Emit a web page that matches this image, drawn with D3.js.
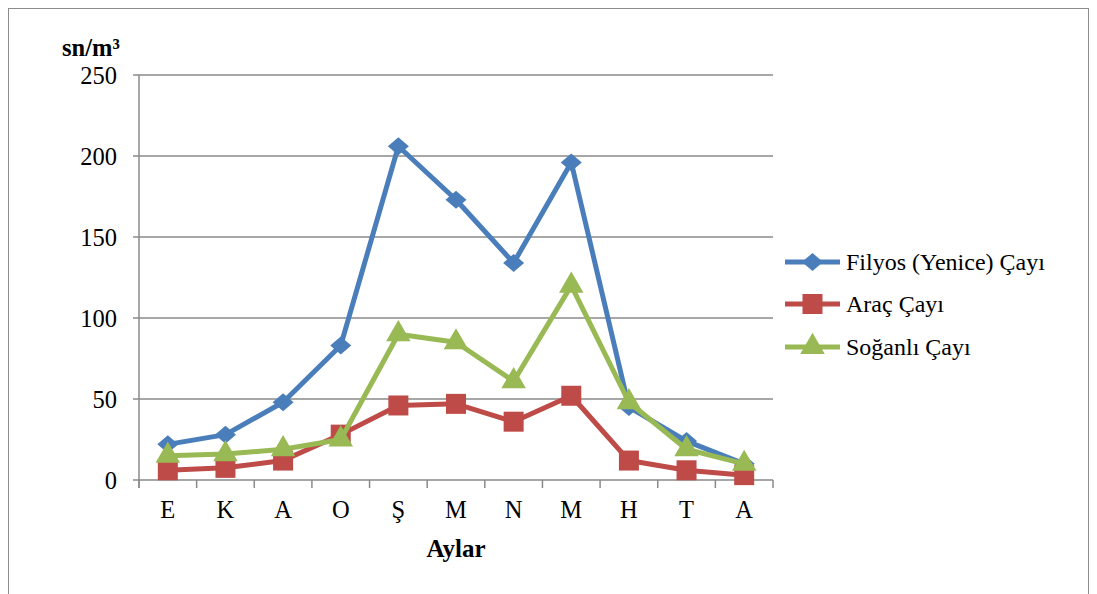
<!DOCTYPE html>
<html><head><meta charset="utf-8">
<script src="https://cdn.jsdelivr.net/npm/d3@7"></script>
<style>body{margin:0;background:#fff}svg{display:block}
text{font-family:"Liberation Serif","Times New Roman",Times,serif;}</style>
</head><body>
<svg id="c" width="1097" height="594"></svg>
<script>
const months = ["E","K","A","O","Ş","M","N","M","H","T","A"];
const filyos = [22,28,48,83,206,173,134,196,45,24,10];
const arac = [6,7.5,12,28,46,47,36,52,12,6,3];
const soganli = [15,16,19,25,90,85,61,120,48,19,10];
const seriesNames = ["Filyos (Yenice) Çayı","Araç Çayı","Soğanlı Çayı"];
const colors = ["#4a7ebb","#be4b48","#98b954"];
const yTicks = [0,50,100,150,200,250];

const svg = d3.select("#c");
svg.append("rect").attr("x",8.5).attr("y",8.5).attr("width",1080).attr("height",600)
  .attr("fill","none").attr("stroke","#8c8c8c").attr("stroke-width",1);

const L=139, R=773, T=75, B=480;
const x = d3.scaleBand().domain(d3.range(months.length)).range([L,R]);
const y = d3.scaleLinear().domain([0,250]).range([B,T]);

svg.append("g").selectAll("line").data(yTicks).join("line")
  .attr("x1",L-6).attr("x2",R).attr("y1",d=>y(d)).attr("y2",d=>y(d))
  .attr("stroke","#8a8a8a").attr("stroke-width",1.5);
svg.append("line").attr("x1",L).attr("x2",L).attr("y1",T).attr("y2",B+8)
  .attr("stroke","#8a8a8a").attr("stroke-width",1.5);
svg.append("g").selectAll("line").data(d3.range(months.length+1)).join("line")
  .attr("x1",d=>L+d*x.step()).attr("x2",d=>L+d*x.step()).attr("y1",B).attr("y2",B+8)
  .attr("stroke","#8a8a8a").attr("stroke-width",1.5);
svg.append("g").selectAll("text").data(yTicks).join("text")
  .attr("x",L-22).attr("y",d=>y(d)).attr("dy","0.35em").attr("text-anchor","end")
  .attr("font-size",24.5).attr("fill","#000").text(d=>d);
svg.append("g").selectAll("text").data(months).join("text")
  .attr("x",(d,i)=>x(i)+x.bandwidth()/2).attr("y",518).attr("text-anchor","middle")
  .attr("font-size",24.5).attr("fill","#000").text(d=>d);
svg.append("text").attr("x",456).attr("y",557).attr("text-anchor","middle")
  .attr("font-size",25).attr("font-weight","bold").text("Aylar");
svg.append("text").attr("x",62).attr("y",56)
  .attr("font-size",24.5).attr("font-weight","bold").text("sn/m³");

const diamond = {draw(ctx,size){const w=10.5,h=9;ctx.moveTo(0,-h);ctx.lineTo(w,0);ctx.lineTo(0,h);ctx.lineTo(-w,0);ctx.closePath();}};
const data=[filyos,arac,soganli];
const symbols=[diamond,d3.symbolSquare,d3.symbolTriangle];
const sizes=[1,400,260];
const line=d3.line().x((d,i)=>x(i)+x.bandwidth()/2).y(d=>y(d));
data.forEach((s,k)=>{
  const g=svg.append("g");
  g.append("path").datum(s).attr("d",line).attr("fill","none")
    .attr("stroke",colors[k]).attr("stroke-width",5).attr("stroke-linejoin","round");
  g.selectAll("path.m").data(s).join("path").attr("class","m")
    .attr("transform",(d,i)=>`translate(${x(i)+x.bandwidth()/2},${y(d)})`)
    .attr("d",d3.symbol().type(symbols[k]).size(sizes[k])).attr("fill",colors[k]);
});
const ly=[262,304,347];
seriesNames.forEach((n,k)=>{
  const g=svg.append("g");
  g.append("line").attr("x1",785).attr("x2",840).attr("y1",ly[k]).attr("y2",ly[k])
    .attr("stroke",colors[k]).attr("stroke-width",5);
  g.append("path").attr("transform",`translate(812.5,${ly[k]})`)
    .attr("d",d3.symbol().type(symbols[k]).size(sizes[k])).attr("fill",colors[k]);
  g.append("text").attr("x",846).attr("y",ly[k]).attr("dy","0.35em")
    .attr("font-size",24).attr("fill","#000").text(n);
});
</script>
</body></html>
